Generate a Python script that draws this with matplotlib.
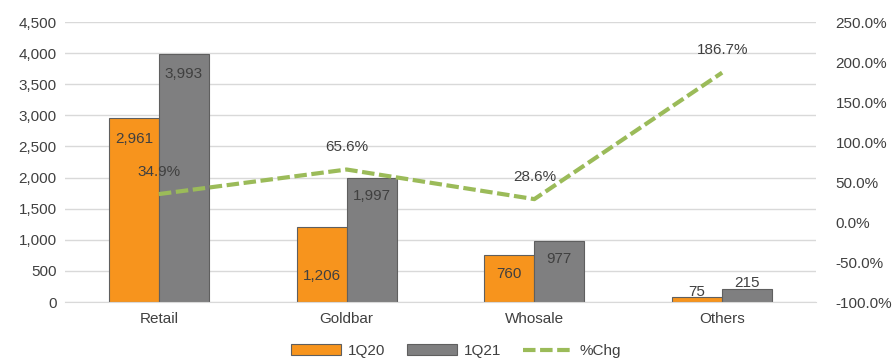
import matplotlib.pyplot as plt
import numpy as np
from matplotlib.ticker import FuncFormatter

plt.rcParams['font.family'] = ['Liberation Sans', 'DejaVu Sans']

# DATA
categories = ['Retail', 'Goldbar', 'Whosale', 'Others']
q1_20 = [2961, 1206, 760, 75]
q1_21 = [3993, 1997, 977, 215]
pct_chg = [34.9, 65.6, 28.6, 186.7]

TXT = '#404040'
ORANGE = '#F7941D'
GRAY = '#7F7F80'
GREEN = '#9BBB59'
FS = 11

fig = plt.figure(figsize=(8.96, 3.61), dpi=100)
ax = fig.add_axes([65 / 896, 1 - 302 / 361, 751 / 896, 280 / 361])
ax2 = ax.twinx()

x = np.arange(len(categories))
w = 0.266

b1 = ax.bar(x - w / 2, q1_20, w, color=ORANGE, edgecolor='#5F5F5F', linewidth=0.8, label='1Q20', zorder=2)
b2 = ax.bar(x + w / 2, q1_21, w, color=GRAY, edgecolor='#5F5F5F', linewidth=0.8, label='1Q21', zorder=2)

ax.set_xlim(-0.5, len(categories) - 0.5)
ax.set_ylim(0, 4500)
ax.set_yticks(np.arange(0, 4501, 500))
ax.yaxis.set_major_formatter(FuncFormatter(lambda v, p: f'{int(v):,}'))
ax.grid(axis='y', color='#D9D9D9', linewidth=1, zorder=0)
ax.set_axisbelow(True)
ax.set_xticks(x)
ax.set_xticklabels(categories)
for s in ['top', 'right', 'left']:
    ax.spines[s].set_visible(False)
ax.spines['bottom'].set_color('#D9D9D9')
ax.tick_params(length=0, colors=TXT, labelsize=FS)
ax.tick_params(axis='y', pad=6)
ax.tick_params(axis='x', pad=7)

# bar value labels (offsets in points below the bar top)
off1 = [-15, -35, -14, 4]
off2 = [-15, -13, -13, 4]
for i in range(len(categories)):
    for xs, v, o in ((x[i] - w / 2, q1_20[i], off1[i]), (x[i] + w / 2, q1_21[i], off2[i])):
        ax.annotate(f'{v:,}', (xs, v), xytext=(0, o), textcoords='offset points',
                    ha='center', va='center', fontsize=FS, color=TXT, zorder=5)

line, = ax2.plot(x, pct_chg, color=GREEN, linewidth=3, linestyle=(0, (3, 1.1)),
                 dash_capstyle='butt', label='%Chg', zorder=3)
ax2.set_ylim(-100, 250)
ax2.set_yticks(np.arange(-100, 251, 50))
ax2.yaxis.set_major_formatter(FuncFormatter(lambda v, p: f'{v:.1f}%'))
for s in ['top', 'right', 'left', 'bottom']:
    ax2.spines[s].set_visible(False)
ax2.tick_params(length=0, colors=TXT, labelsize=FS, pad=14)
for i, v in enumerate(pct_chg):
    ax2.annotate(f'{v:.1f}%', (x[i], v), xytext=(0, 16), textcoords='offset points',
                 ha='center', va='center', fontsize=FS, color=TXT)

fig.legend(handles=[b1, b2, line], loc='center', bbox_to_anchor=(456 / 896, 1 - 351 / 361),
           ncol=3, frameon=False, fontsize=FS, labelcolor=TXT, handlelength=3.3,
           columnspacing=1.4, handletextpad=0.45)

fig.savefig('out.png', dpi=100)
